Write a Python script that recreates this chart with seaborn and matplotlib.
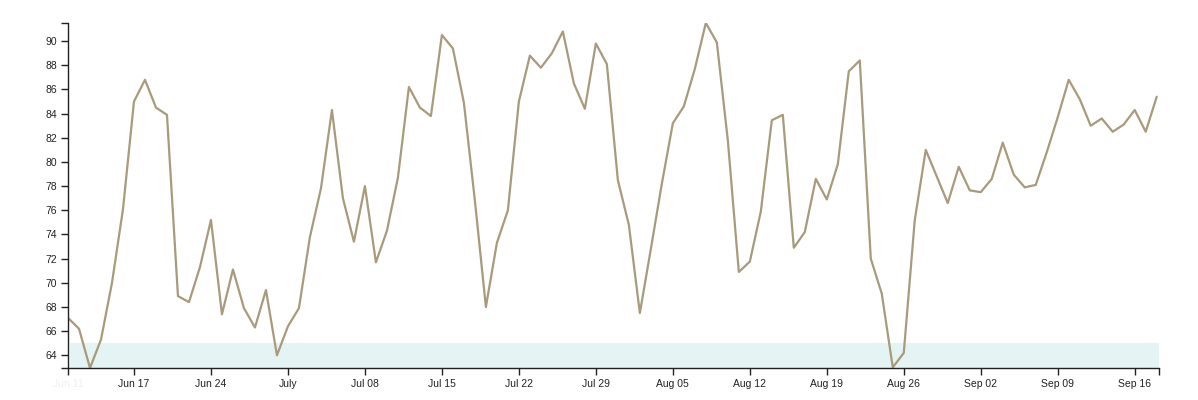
import pandas as pd
import seaborn as sns
import matplotlib.pyplot as plt
from matplotlib.ticker import FixedLocator

# daily values, Jun 11 -> Sep 18
start_date = "2024-06-11"
values = [
    67.1, 66.2, 62.95, 65.3, 70.0, 76.1, 85.0, 86.8, 84.5, 83.9,
    68.9, 68.4, 71.3, 75.2, 67.4, 71.1, 67.9, 66.3, 69.4, 64.0,
    66.4, 67.9, 73.8, 77.8, 84.3, 77.0, 73.4, 78.0, 71.7, 74.3,
    78.7, 86.2, 84.5, 83.8, 90.5, 89.4, 84.9, 76.8, 68.0, 73.3,
    76.0, 85.0, 88.8, 87.8, 89.0, 90.8, 86.5, 84.4, 89.8, 88.1,
    78.5, 74.8, 67.5, 72.8, 78.2, 83.2, 84.6, 87.7, 91.5, 89.9,
    81.8, 70.9, 71.75, 75.9, 83.45, 83.9, 72.9, 74.2, 78.6, 76.9,
    79.8, 87.5, 88.4, 72.0, 69.1, 63.0, 64.2, 75.2, 81.0, 78.8,
    76.6, 79.6, 77.65, 77.5, 78.6, 81.6, 78.95, 77.9, 78.1, 80.8,
    83.7, 86.8, 85.2, 83.0, 83.6, 82.5, 83.1, 84.3, 82.5, 85.4,
]

tick_dates = ["2024-06-11", "2024-06-17", "2024-06-24", "2024-07-01", "2024-07-08",
              "2024-07-15", "2024-07-22", "2024-07-29", "2024-08-05", "2024-08-12",
              "2024-08-19", "2024-08-26", "2024-09-02", "2024-09-09", "2024-09-16"]
tick_labels = ["Jun 11", "Jun 17", "Jun 24", "July", "Jul 08", "Jul 15", "Jul 22", "Jul 29",
               "Aug 05", "Aug 12", "Aug 19", "Aug 26", "Sep 02", "Sep 09", "Sep 16"]
y_ticks = list(range(64, 92, 2))
band_top = 65

df = pd.DataFrame({
    "date": pd.date_range(start_date, periods=len(values), freq="D"),
    "value": values,
})

sns.set_style("ticks")
plt.rcParams['font.family'] = ['Liberation Sans', 'DejaVu Sans']

fig = plt.figure(figsize=(11.98, 4.0), dpi=100)
ax = fig.add_axes([68 / 1198, 1 - 368 / 400, (1159 - 68) / 1198, (368 - 23) / 400])

ymin, ymax = min(values), max(values)
ax.axhspan(ymin, band_top, xmin=0.002, xmax=1.0, color="#e4f4f5", lw=0, zorder=0)

sns.lineplot(data=df, x="date", y="value", ax=ax, color="#a89a7b", linewidth=1.6)

ax.set_xlim(df["date"].iloc[0], df["date"].iloc[-1] + pd.Timedelta(hours=5))
ax.set_ylim(ymin, ymax)

xt = pd.to_datetime(tick_dates)
ax.set_xticks(xt)
ax.set_xticklabels(tick_labels)
ax.set_yticks(y_ticks)
# outer ticks at the axis ends, d3 style
ax.xaxis.set_minor_locator(FixedLocator(list(ax.get_xlim())))
ax.yaxis.set_minor_locator(FixedLocator(list(ax.get_ylim())))

ax.tick_params(axis="both", which="both", length=5, width=1, color="#222222",
               labelsize=7.5, labelcolor="#222222", pad=3)
# first label is almost hidden in the original
ax.get_xticklabels()[0].set_color("#f0f0f0")
ax.set_xlabel("")
ax.set_ylabel("")

for side in ["top", "right"]:
    ax.spines[side].set_visible(False)
for side in ["left", "bottom"]:
    ax.spines[side].set_color("#222222")
    ax.spines[side].set_linewidth(1)

fig.savefig("out.png", dpi=100)
